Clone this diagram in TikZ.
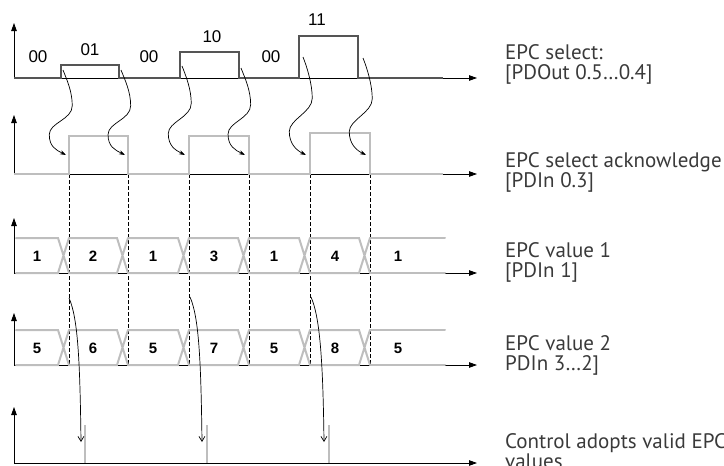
\documentclass[tikz,border=0pt]{standalone}
\usepackage{fontspec}
\setmainfont{Liberation Sans}
\newfontfamily\labelfont{PT Sans}
\usetikzlibrary{arrows.meta}
\usetikzlibrary{calc}
\definecolor{selgray}{HTML}{555555}
\definecolor{ackgray}{HTML}{BEBEBE}
\definecolor{txtgray}{HTML}{3A3A3A}
\tikzset{
axis/.style = {line width=0.8pt, -{Triangle[length=8pt,width=5.5pt]}},
selsig/.style = {line width=2.2pt, selgray},
acksig/.style = {line width=2pt, ackgray},
bus/.style = {line width=2pt, ackgray, line cap=round},
guide/.style = {line width=0.6pt, dash pattern=on 4pt off 2pt},
wig/.style = {line width=0.7pt, -{Stealth[length=6pt,width=4pt]}},
drop/.style = {line width=0.7pt, -{Straight Barb[length=5pt,width=6pt]}},
bits/.style = {font=\fontsize{17}{17}\selectfont},
vals/.style = {font=\fontsize{15}{15}\selectfont\bfseries},
sig/.style = {font=\labelfont\fontsize{21}{20}\selectfont, text=txtgray,
              align=left, anchor=base west, inner sep=0pt}
}
% S-shaped hand-over arrow from select edge to acknowledge edge
\newcommand{\wiggle}[2]{\draw[wig] (#1) .. controls +(4,10) and +(0,-14) .. ($(#1)!0.42!(#2)+(8,0)$) .. controls +(0,14) and +(0,-12) .. ($(#1)!0.76!(#2)+(-16,0)$) .. controls +(0,12) and +(-10,-5) .. (#2);}
% value bus between two heights
\newcommand{\busrow}[2]{
  \foreach \l/\r in {16/58, 69/117, 128/178, 189/238, 249/299, 310/359}
    \draw[bus] (\l,#1) -- (\r,#1) -- (\r+11,#2) (\l,#2) -- (\r,#2) -- (\r+11,#1);
  \draw[bus] (370,#1) -- (445,#1) (370,#2) -- (445,#2);
}

\begin{document}
\begin{tikzpicture}[x=1pt, y=-1pt]
\useasboundingbox (0,0) rectangle (724,466);

% axes
\coordinate (o1) at (14,78);
\coordinate (o2) at (14,174);
\coordinate (o3) at (14,273);
\coordinate (o4) at (14,365);
\coordinate (o5) at (14,463);
\draw[axis] (o1) -- (14,23);
\draw[axis] (o2) -- (14,115);
\draw[axis] (o3) -- (14,218);
\draw[axis] (o4) -- (14,313);
\draw[axis] (o5) -- (14,407);
\foreach \k in {1,...,5}
  \draw[axis] (o\k) -- ($(o\k)+(463,0)$);

% dashed guides
\foreach \x in {69,128,189,249,310,370}
  \draw[guide] (\x,174) -- (\x,365);

% EPC select
\draw[selsig] (o1) -- (61,78) -- (61,65) -- (119,65) -- (119,78) -- (180,78) -- (180,52)
  -- (239,52) -- (239,78) -- (299,78) -- (299,36) -- (358,36) -- (358,78) -- (443,78);
\node[bits] (b1) at (38,57) {00};
\node[bits] (b2) at (90,50) {01};
\node[bits] (b3) at (149,57) {00};
\node[bits] (b4) at (212,37) {10};
\node[bits] (b5) at (271,57) {00};
\node[bits] (b6) at (317,20) {11};

% acknowledge
\draw[acksig] (o2) -- (69,174) -- (69,136) -- (128,136) -- (128,174) -- (189,174) -- (189,136)
  -- (249,136) -- (249,174) -- (310,174) -- (310,133) -- (370,133) -- (370,174) -- (443,174);

% hand-over arrows
\coordinate (s1) at (63,70);   \coordinate (t1) at (66,155);
\coordinate (s2) at (121,70);  \coordinate (t2) at (125,155);
\coordinate (s3) at (182,66);  \coordinate (t3) at (185,155);
\coordinate (s4) at (241,68);  \coordinate (t4) at (245,155);
\coordinate (s5) at (303,57);  \coordinate (t5) at (306,155);
\coordinate (s6) at (363,58);  \coordinate (t6) at (366,155);
\foreach \k in {1,...,6}{
  \wiggle{s\k}{t\k}
}

% value buses
\busrow{238}{273}
\busrow{330}{365}
\foreach \v/\x [count=\i] in {1/37, 2/93, 1/153, 3/214, 1/274, 4/335, 1/398}
  \node[vals] (va\i) at (\x,256) {\v};
\foreach \v/\x [count=\i] in {5/37, 6/93, 5/153, 7/214, 5/274, 8/335, 5/398}
  \node[vals] (vb\i) at (\x,348) {\v};

% control adopts
\foreach \x [count=\i] in {85,207,329} {
  \coordinate (p\i) at (\x,425);
  \draw[acksig] (p\i) -- (\x,463);
}
\coordinate (d1) at (69,298);  \coordinate (e1) at (81,442);
\coordinate (d2) at (190,297); \coordinate (e2) at (202,442);
\coordinate (d3) at (311,297); \coordinate (e3) at (324,442);
\foreach \k in {1,2,3}
  \draw[drop] (d\k) .. controls +(9,20) and +(-1,-80) .. (e\k);

% signal names (placed at the baseline of the last line)
\node[sig] (n1) at (505,79) {EPC select:\\{[}PDOut 0.5…0.4]};
\node[sig] (n2) at (505,187) {EPC select acknowledge\\{[}PDIn 0.3]};
\node[sig] (n3) at (505,277) {EPC value 1\\{[}PDIn 1]};
\node[sig] (n4) at (505,370) {EPC value 2\\PDIn 3…2]};
\node[sig] (n5) at (505,468) {Control adopts valid EPC\\values};
\end{tikzpicture}
\end{document}
